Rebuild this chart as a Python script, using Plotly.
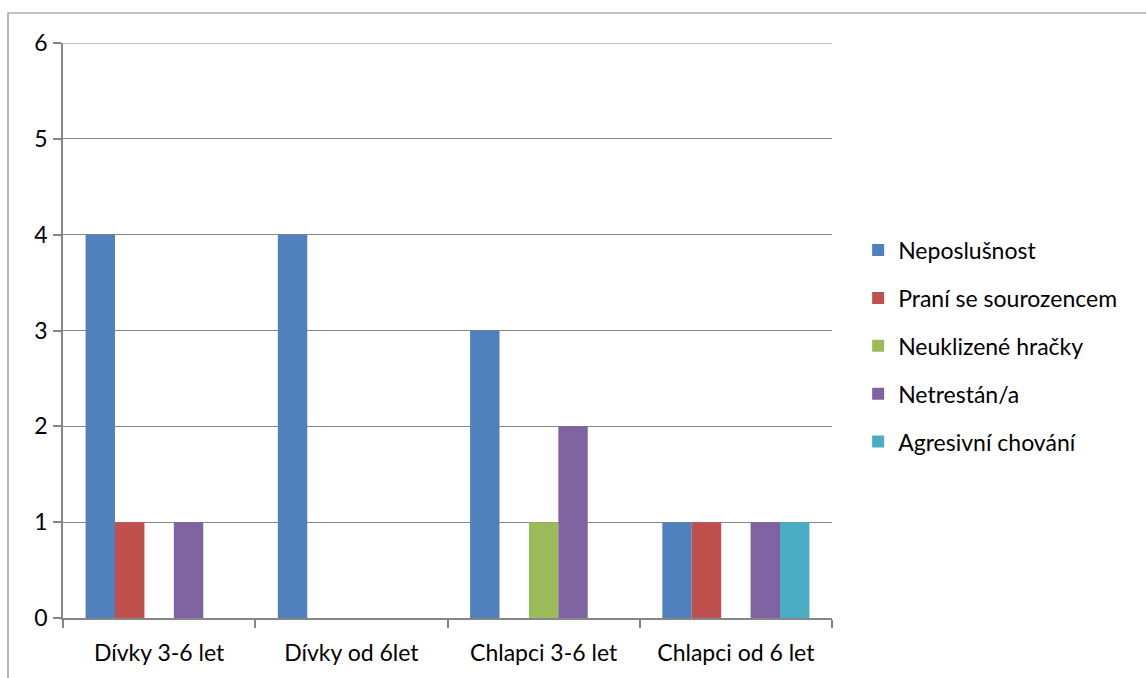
import plotly.graph_objects as go

categories = ["Dívky 3-6 let", "Dívky od 6let", "Chlapci 3-6 let", "Chlapci od 6 let"]
series_names = ["Neposlušnost", "Praní se sourozencem", "Neuklizené hračky",
                "Netrestán/a", "Agresivní chování"]
neposlusnost = [4, 4, 3, 1]
prani = [1, 0, 0, 1]
neuklizene = [0, 0, 1, 0]
netrestan = [1, 0, 2, 1]
agresivni = [0, 0, 0, 1]
y_ticks = [0, 1, 2, 3, 4, 5, 6]

colors = ["#4F81BD", "#C0504D", "#9BBB59", "#8064A2", "#4BACC6"]
values = [neposlusnost, prani, neuklizene, netrestan, agresivni]

font_family = "Lato, 'Open Sans', sans-serif"
grey = "#868686"
fs = 23

fig = go.Figure()
for i, (name, vals) in enumerate(zip(series_names, values)):
    fig.add_trace(go.Bar(
        x=categories, y=vals, name=name,
        marker=dict(color=colors[i], line=dict(width=0)),
        legendgroup=f"g{i}",
    ))

W, H = 1146, 678
ml, mr, mt, mb = 63, 314, 43, 60
pw, ph = W - ml - mr, H - mt - mb

fig.update_layout(
    width=W, height=H,
    margin=dict(l=ml, r=mr, t=mt, b=mb),
    paper_bgcolor="white", plot_bgcolor="white",
    barmode="group", bargap=0.235, bargroupgap=0,
    font=dict(family=font_family, size=fs, color="#000000"),
    showlegend=True,
    legend=dict(
        x=1.034, xanchor="left", y=0.473, yanchor="middle",
        traceorder="grouped", tracegroupgap=15,
        font=dict(family=font_family, size=fs, color="#000000"),
        itemwidth=30,
    ),
    xaxis=dict(
        showline=True, linecolor=grey, linewidth=1.5,
        ticks="outside", tickson="boundaries", ticklen=8, tickcolor=grey,
        tickwidth=1.5, showgrid=False,
        tickfont=dict(size=fs), ticklabelstandoff=14,
    ),
    yaxis=dict(
        range=[0, 6], tickvals=y_ticks, showline=True, linecolor=grey,
        linewidth=1.5, ticks="outside", ticklen=8, tickcolor=grey, tickwidth=1.5,
        showgrid=True, gridcolor=grey, gridwidth=1.2, zeroline=False,
        tickfont=dict(size=fs), ticklabelstandoff=1,
    ),
    shapes=[
        # outer chart-area border
        dict(
            type="rect", xref="paper", yref="paper",
            x0=(8 - ml) / pw, x1=(W + 20 - ml) / pw,
            y0=-(H + 20 - mt - ph) / ph, y1=1 + (mt - 13) / ph,
            line=dict(color="#878787", width=1.2), fillcolor="rgba(0,0,0,0)",
            layer="below",
        ),
        # gridline at the top of the value range
        dict(
            type="line", xref="paper", yref="y",
            x0=0, x1=1, y0=y_ticks[-1], y1=y_ticks[-1],
            line=dict(color=grey, width=1.2), layer="below",
        ),
    ],
)

fig.write_html("out.html")
